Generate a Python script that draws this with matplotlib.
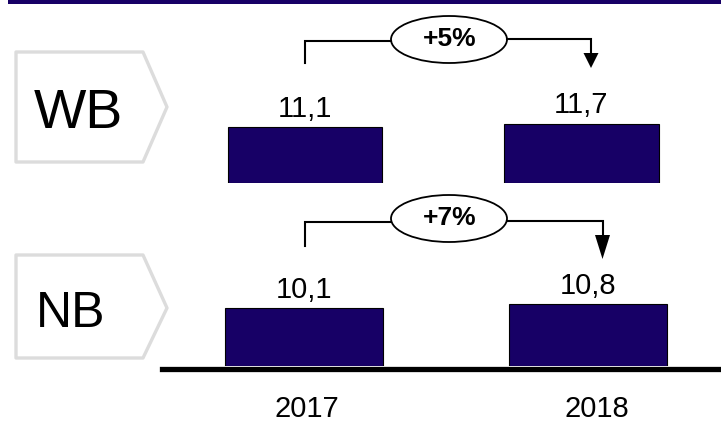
import matplotlib.pyplot as plt
from matplotlib.patches import Polygon, Ellipse, Rectangle

# chart data
groups = ['WB', 'NB']
years = ['2017', '2018']
wb_values = [11.1, 11.7]
nb_values = [10.1, 10.8]
growth_labels = ['+5%', '+7%']

NAVY = '#170066'
GREY = '#dcdcdc'
W, H = 721, 424
FONT = 'Liberation Sans'

fig = plt.figure(figsize=(W / 100, H / 100), dpi=100)


def px_axes(left, top, right, bottom):
    # axes placed in pixel coords (top-left origin)
    return fig.add_axes([left / W, 1 - bottom / H, (right - left) / W, (bottom - top) / H])


def fmt(v):
    return f'{v:.1f}'.replace('.', ',')


def draw_bars(ax, values, xlim):
    x = list(range(len(values)))
    bars = ax.bar(x, values, width=0.557, color=NAVY, edgecolor='black', linewidth=0.8)
    for b, v in zip(bars, values):
        ax.annotate(fmt(v), (b.get_x() + b.get_width() / 2, v), xytext=(0, 7.5),
                    textcoords='offset points', ha='center', va='baseline',
                    fontsize=21, family=FONT)
    ax.set_xlim(*xlim)
    ax.set_ylim(0, 20)
    for s in ax.spines.values():
        s.set_visible(False)
    ax.set_yticks([])
    ax.patch.set_alpha(0)


# WB panel: bar centres ~305 / 581 px, baseline at 183 px
ax_wb = px_axes(166.75, 82, 719.75, 183)
draw_bars(ax_wb, wb_values, (-0.5, 1.5))
ax_wb.set_xticks([])

# NB panel: bar centres ~304 / 588 px, baseline at 366 px
ax_nb = px_axes(162, 251.2, 721.5, 366)
draw_bars(ax_nb, nb_values, (-0.5, 1.47))
ax_nb.axhline(-0.52, color='black', linewidth=3.8, clip_on=False, zorder=0)
ax_nb.set_xticks([0.01, 1.03])
ax_nb.set_xticklabels(years, fontsize=21, family=FONT)
ax_nb.tick_params(axis='x', length=0, pad=21)

# overlay for decoration (pixel coords)
ov = fig.add_axes([0, 0, 1, 1], zorder=5)
ov.set_xlim(0, W)
ov.set_ylim(H, 0)
ov.axis('off')

ov.add_patch(Rectangle((8, 0), W - 8, 4, color=NAVY, lw=0))

# chevron labels
chevrons = [
    [(16, 52), (143, 52), (167, 107), (143, 162), (16, 162)],
    [(16, 255), (143, 255), (167, 308), (143, 358), (16, 358)],
]
label_pos = [(34, 128, 40), (36, 327, 36)]
for pts, name, (lx, ly, fs) in zip(chevrons, groups, label_pos):
    ov.add_patch(Polygon(pts, closed=True, facecolor='white', edgecolor=GREY,
                         linewidth=2.4, joinstyle='round'))
    ov.text(lx, ly, name, fontsize=fs, family=FONT, ha='left', va='baseline')

# growth brackets
brackets = [
    # left x, left bottom, line y, ellipse centre y, right x, head top, head tip
    dict(lx=305, lb=63, ly=40.5, ey=39.5, rx=591, ry=39, ht=53, tip=68),
    dict(lx=305, lb=246, ly=222, ey=218.5, rx=602.5, ry=221, ht=235, tip=259),
]
for br, lab in zip(brackets, growth_labels):
    ov.plot([br['lx'], br['lx'], 391], [br['lb'], br['ly'], br['ly']],
            color='black', lw=1.5, solid_joinstyle='miter')
    ov.plot([507, br['rx'], br['rx']], [br['ry'], br['ry'], br['ht']],
            color='black', lw=1.5, solid_joinstyle='miter')
    ov.add_patch(Polygon([(br['rx'] - 7.5, br['ht']), (br['rx'] + 7.5, br['ht']),
                          (br['rx'], br['tip'])], closed=True, color='black', lw=0))
    ov.add_patch(Ellipse((449, br['ey']), 116, 47, facecolor='white',
                         edgecolor='black', linewidth=1.3))
    ov.text(450, br['ey'] - 0.5, lab, fontsize=19, fontweight='bold',
            family=FONT, ha='center', va='center')

fig.savefig('out.png', dpi=100)
